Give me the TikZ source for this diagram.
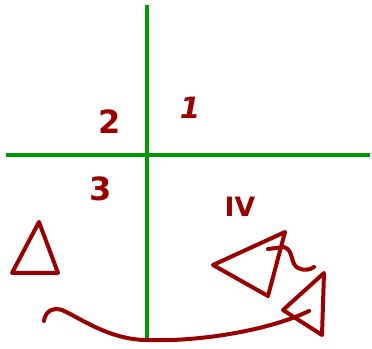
\documentclass[tikz,border=0pt]{standalone}
\usepackage{fontspec}
\setmainfont{DejaVu Sans}
\begin{document}
\begin{tikzpicture}[x=0.75pt,y=-0.75pt,
  axis/.style={draw=green!60!black,line width=2.6pt},
  ink/.style={draw=red!60!black,line width=3pt,line cap=round,line join=round},
  lbl/.style={text=red!60!black,font=\bfseries\fontsize{24}{24}\selectfont,inner sep=0pt}]
\useasboundingbox (0,0) rectangle (372,349);
\fill[white] (0,0) rectangle (372,349);
% axes
\coordinate (vt) at (147,5);
\coordinate (vb) at (147,340);
\coordinate (hl) at (6,155);
\coordinate (hr) at (370,155);
\draw[axis] (vt) -- (vb);
\draw[axis] (hl) -- (hr);
% labels
\node[lbl] (q2) at (110,122) {2};
\node[lbl,font=\fontsize{22}{22}\selectfont\itshape\bfseries] (q1) at (190,108) {1};
\node[lbl] (q3) at (101,189) {3};
\node[lbl,font=\bfseries\fontsize{20}{20}\selectfont] (q4) at (240,207) {IV};
% left triangle
\draw[ink] (39,222) -- (12,273) -- (58,273) -- cycle;
% upper right triangle
\draw[ink] (213,265) -- (285,232) -- (268,296) -- cycle;
% curl
\draw[ink] (268,249) -- (284,247) .. controls (294,250) and (290,264) .. (298,268) .. controls (304,271) and (310,270) .. (314,267);
% lower right triangle
\draw[ink] (324,273) -- (283,310) -- (322,335) -- cycle;
% arc
\draw[ink] (44,321) .. controls (45,312) and (52,307) .. (62,310)
  .. controls (80,318) and (110,340) .. (147,340)
  .. controls (200,342) and (270,330) .. (309,311);
\end{tikzpicture}
\end{document}
